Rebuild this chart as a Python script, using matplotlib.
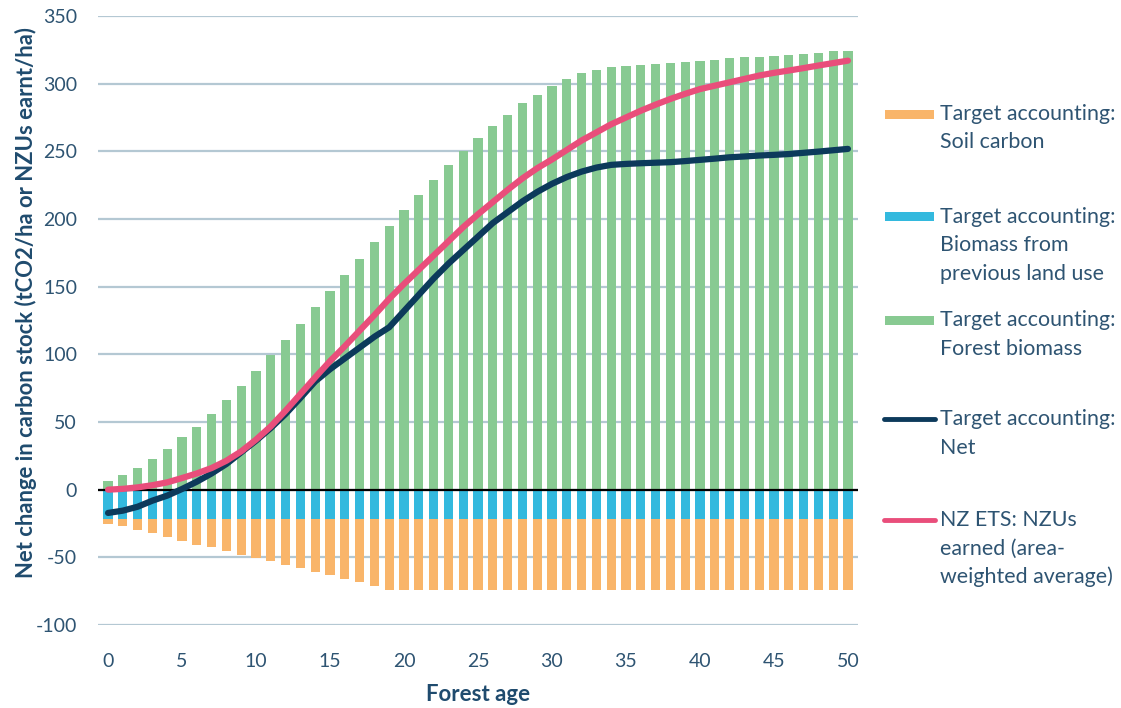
import matplotlib
matplotlib.use("Agg")
import matplotlib.pyplot as plt
from matplotlib.lines import Line2D
from matplotlib.patches import Rectangle

plt.rcParams['font.family'] = ['Lato', 'DejaVu Sans']
plt.rcParams['axes.unicode_minus'] = False

# forest age 0..50
age = list(range(51))

forest_biomass = [6.2, 10.8, 16, 22.4, 30, 38.7, 46.6, 56, 66.3, 76.4,
                  87.5, 99.8, 110.6, 122.4, 134.8, 146.6, 158.7, 170.7, 182.8, 194.6,
                  206.7, 218, 228.9, 240, 250.5, 259.9, 268.8, 277.2, 285.5, 291.9,
                  298.3, 303.3, 307.7, 310.4, 312.1, 313.1, 314.1, 314.8, 315.1, 315.8,
                  316.8, 317.6, 318.6, 319.5, 320, 320.8, 321.5, 322.2, 323, 324, 324.2]

prev_land_use = [-22, -22, -22, -22, -22, -22, -22, -22, -22, -22,
                 -22, -22, -22, -22, -22, -22, -22, -22, -22, -22,
                 -22, -22, -22, -22, -22, -22, -22, -22, -22, -22,
                 -22, -22, -22, -22, -22, -22, -22, -22, -22, -22,
                 -22, -22, -22, -22, -22, -22, -22, -22, -22, -22, -22]

soil_carbon = [-3, -5, -7.6, -10.3, -13, -15.7, -18.7, -20.6, -23.3, -26,
               -28.5, -31, -33.5, -36, -38.5, -41, -44, -46.5, -49, -52,
               -52, -52, -52, -52, -52, -52, -52, -52, -52, -52,
               -52, -52, -52, -52, -52, -52, -52, -52, -52, -52,
               -52, -52, -52, -52, -52, -52, -52, -52, -52, -52, -52]

net = [-17.2, -15.5, -12.6, -8.1, -4.4, 0.5, 5.9, 12, 19, 27.6,
       36.2, 45.6, 56, 67.8, 80, 89, 97, 105, 113, 120,
       132, 144, 156, 167, 177, 187, 197, 205, 213, 220,
       226, 231, 235, 238, 240, 240.7, 241.2, 241.6, 242, 242.8,
       243.7, 244.6, 245.6, 246.2, 246.9, 247.4, 248, 248.9, 249.8, 250.8, 251.8]

nzus = [0, 0.6, 1.7, 3.3, 5.4, 8.6, 12, 16, 21.4, 28.3,
        37, 46.8, 58.4, 70.7, 83, 95, 106, 117.5, 129, 141,
        152, 162.5, 173, 183.5, 194, 203.5, 212.5, 221.5, 230, 237.5,
        244, 251, 258, 264, 270, 275, 280, 284.5, 288.7, 292.5,
        296, 298.5, 301, 303.5, 306, 308, 309.7, 311.5, 313.4, 315.2, 317]

C_ORANGE = '#F9B56A'
C_BLUE = '#33B9DE'
C_GREEN = '#88CA92'
C_NAVY = '#0C3A5B'
C_PINK = '#E94E7B'
C_GRID = '#B4C8D3'
C_TEXT = '#2E5472'
C_LABEL = '#1F4B6E'

W, H = 1121, 708
fig = plt.figure(figsize=(W / 100, H / 100), dpi=100)
ax = fig.add_axes([98 / W, 1 - 625 / H, (858 - 98) / W, (625 - 16) / H])

bw = 0.62
ax.bar(age, forest_biomass, width=bw, color=C_GREEN, zorder=2)
ax.bar(age, prev_land_use, width=bw, color=C_BLUE, zorder=2)
ax.bar(age, soil_carbon, width=bw, bottom=prev_land_use, color=C_ORANGE, zorder=2)
ax.axhline(0, color='black', lw=1.6, zorder=3)
ax.plot(age, net, color=C_NAVY, lw=4.5, solid_capstyle='round', zorder=4)
ax.plot(age, nzus, color=C_PINK, lw=4.5, solid_capstyle='round', zorder=5)

ax.set_xlim(-0.68, 50.68)
ax.set_ylim(-100, 350)
ax.set_yticks(range(-100, 351, 50))
ax.set_xticks(range(0, 51, 5))
ax.yaxis.grid(True, color=C_GRID, lw=1.6, zorder=0)
ax.set_axisbelow(True)
for s in ax.spines.values():
    s.set_visible(False)
ax.tick_params(length=0, labelsize=14, labelcolor=C_TEXT)
ax.tick_params(axis='y', pad=15)
ax.tick_params(axis='x', pad=20)

ax.set_xlabel('Forest age', fontsize=16, fontweight='bold', color=C_LABEL)
ax.xaxis.set_label_coords(0.5, -0.097)
ax.set_ylabel('Net change in carbon stock (tCO2/ha or NZUs earnt/ha)',
              fontsize=15.8, fontweight='bold', color=C_LABEL)
ax.yaxis.set_label_coords(-0.08, 0.53)

# legend drawn by hand to follow the uneven spacing of the original
entries = [
    ('patch', C_ORANGE, ['Target accounting:', 'Soil carbon'], 114),
    ('patch', C_BLUE, ['Target accounting:', 'Biomass from', 'previous land use'], 217),
    ('patch', C_GREEN, ['Target accounting:', 'Forest biomass'], 320),
    ('line', C_NAVY, ['Target accounting:', 'Net'], 419),
    ('line', C_PINK, ['NZ ETS: NZUs', 'earned (area-', 'weighted average)'], 520),
]
for kind, col, lines, py in entries:
    yf = 1 - py / H
    if kind == 'patch':
        fig.add_artist(Rectangle((885 / W, yf - 4.5 / H), 49 / W, 9 / H,
                                 facecolor=col, edgecolor='none', transform=fig.transFigure))
    else:
        fig.add_artist(Line2D([884 / W, 935 / W], [yf, yf], color=col, lw=3.5,
                              solid_capstyle='round', transform=fig.transFigure))
    for k, t in enumerate(lines):
        fig.text(940 / W, 1 - (py + k * 28.5) / H, t, fontsize=15.4,
                 color=C_TEXT, va='center', ha='left')

fig.savefig('out.png', dpi=100)
